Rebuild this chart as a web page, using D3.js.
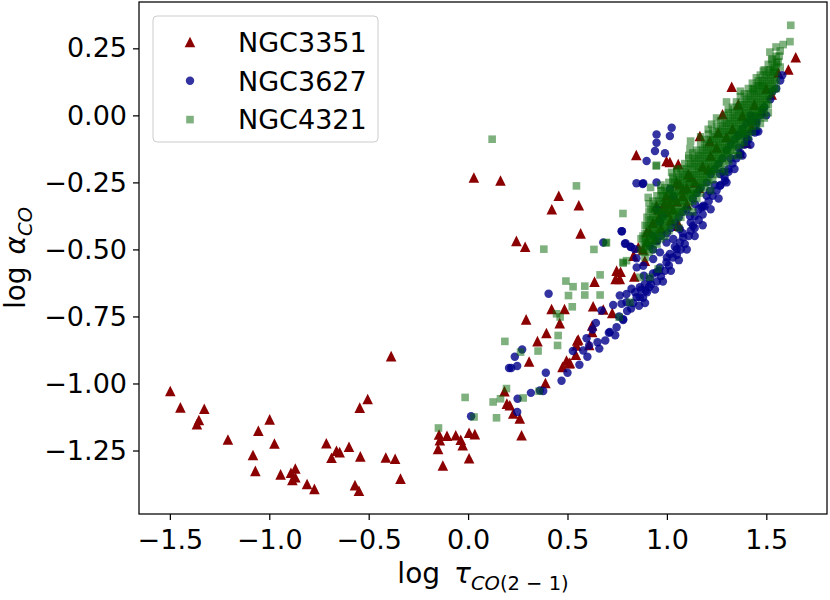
<!DOCTYPE html>
<html>
<head>
<meta charset="utf-8">
<script src="https://cdn.jsdelivr.net/npm/d3@7"></script>
<style>
  body { margin: 0; background: #fff; }
  svg { font-family: "DejaVu Sans", sans-serif; }
  .axis line { stroke: #000; stroke-width: 1.25; }
  .axis path { display: none; }
</style>
</head>
<body>
<div id="chart"></div>
<script>
// ==== Data ====
const seriesNames = ["NGC3351", "NGC3627", "NGC4321"];
const xTicks = [-1.5, -1.0, -0.5, 0.0, 0.5, 1.0, 1.5];
const yTicks = [-1.25, -1.0, -0.75, -0.5, -0.25, 0.0, 0.25];

// NGC3351 [log tau, log alpha]
const ngc3351 = [
  [-1.498,-1.028],[-1.447,-1.089],[-1.327,-1.094],[-1.354,-1.136],[-1.364,-1.152],
  [-1.208,-1.209],[-1.055,-1.176],[-0.998,-1.134],[-0.974,-1.224],[-1.082,-1.267],
  [-1.070,-1.326],[-0.943,-1.339],[-0.891,-1.333],[-0.869,-1.317],[-0.884,-1.360],
  [-0.869,-1.350],[-0.810,-1.375],[-0.773,-1.393],[-0.713,-1.223],[-0.662,-1.251],
  [-0.646,-1.256],[-0.687,-1.277],[-0.599,-1.236],[-0.542,-1.272],[-0.569,-1.379],
  [-0.549,-1.400],[-0.545,-1.090],[-0.505,-1.058],[-0.387,-0.898],[-0.414,-1.276],
  [-0.367,-1.281],[-0.340,-1.355],[-0.146,-1.190],[-0.142,-1.212],[-0.106,-1.195],
  [-0.151,-1.244],[-0.127,-1.306],[-0.062,-1.193],[-0.037,-1.210],[-0.027,-1.230],
  [0.005,-1.184],[0.034,-1.189],[0.005,-1.279],[0.183,-1.029],[0.195,-1.075],
  [0.029,-0.232],[0.163,-0.243],[0.456,-0.300],[0.421,-0.350],[0.557,-0.335],
  [0.243,-0.468],[0.287,-0.490],[0.566,-0.440],[0.420,-0.722],[0.485,-0.722],
  [0.461,-0.775],[0.292,-0.761],[0.394,-0.812],[0.349,-0.842],[0.307,-0.918],
  [0.495,-0.914],[0.508,-0.924],[0.475,-0.938],[0.549,-0.840],[0.542,-0.893],
  [0.389,-0.998],[0.210,-1.081],[0.227,-1.112],[0.260,-1.130],[0.269,-1.193],
  [0.629,-0.712],[0.680,-0.724],[0.725,-0.737],[0.624,-0.784],[0.624,-0.808],
  [0.554,-0.836],[0.609,-0.856],[0.512,-0.923],[0.545,-0.858],
  [0.636,-0.620],[0.742,-0.610],[0.767,-0.583],[0.747,-0.579],[0.763,-0.610],
  [0.832,-0.523],[0.836,-0.601],[0.856,-0.492],[0.889,-0.542],[0.898,-0.436],
  [0.914,-0.434],[0.948,-0.337],[0.981,-0.343],[1.015,-0.331],[1.057,-0.405],
  [0.846,-0.148],[0.998,-0.170],[0.988,-0.327],[0.998,-0.300],[1.015,-0.174],
  [1.057,-0.182],
  [1.166,-0.077],[1.280,0.004],[1.359,0.041],[1.426,-0.046],[1.024,-0.306],
  [1.049,-0.250],[0.956,-0.350],[1.057,-0.412],[1.107,-0.219],[1.082,-0.275],
  [1.208,-0.201],[1.648,0.217],[1.611,0.171],[1.326,0.107],[1.527,0.078],
  [1.477,0.016],[1.258,-0.064],[1.216,-0.096],[1.367,-0.139],[1.401,-0.102],
  [1.065,-0.257],[0.93,-0.40],[0.96,-0.38],[0.97,-0.42],[1.00,-0.36],
  [1.03,-0.35],[1.05,-0.32],[1.08,-0.30],[1.10,-0.27],[1.12,-0.23],
  [1.14,-0.25],[1.18,-0.19],[1.22,-0.15],[1.25,-0.12],[1.30,-0.08],
  [1.33,-0.05],[1.38,0.00],[1.44,0.04],[1.50,0.10],[1.56,0.16],
  [0.90,-0.47],[0.88,-0.50],[0.94,-0.46],[1.02,-0.39],[1.10,-0.33],[1.16,-0.27]
];

// NGC3627
const ngc3627 = [
  [0.015,-1.122],[0.206,-0.942],[0.405,-0.665],[0.272,-0.873],[0.235,-0.900],
  [0.247,-0.935],[0.217,-0.942],[0.391,-0.960],[0.527,-0.879],[0.316,-1.035],
  [0.361,-1.026],[0.378,-1.028],[0.249,-1.057],[0.247,-1.106],
  [0.713,-0.808],[0.772,-0.432],[0.864,-0.678],[0.797,-0.697],[0.651,-0.846],
  [0.579,-0.877],[0.708,-0.811],[0.747,-0.790],[0.780,-0.763],[0.643,-0.774],
  [0.626,-0.799],[0.596,-0.831],[0.609,-0.858],[0.671,-0.728],[0.730,-0.707],
  [0.772,-0.703],[0.763,-0.672],[0.797,-0.666],[0.822,-0.647],[0.848,-0.678],
  [0.864,-0.641],[0.889,-0.629],[0.894,-0.654],[0.914,-0.610],[0.948,-0.585],
  [0.965,-0.567],[0.998,-0.548],[1.015,-0.517],[1.049,-0.499],[1.065,-0.474],
  [1.082,-0.455],[1.132,-0.412],[1.141,-0.375],[1.175,-0.343],[0.848,-0.567],
  [0.884,-0.598],[0.931,-0.536],[0.965,-0.511],[0.998,-0.474],[0.881,-0.561],
  [0.792,-0.477],[0.817,-0.490],[0.839,-0.499],[0.680,-0.474],[0.914,-0.486],
  [0.47,-0.99],[0.50,-0.96],[0.56,-0.93],[0.60,-0.90],[0.66,-0.87],
  [0.69,-0.84],[0.74,-0.82],[0.76,-0.75],[0.80,-0.73],[0.83,-0.70],
  [0.86,-0.71],[0.88,-0.68],[0.90,-0.66],[0.92,-0.63],[0.95,-0.62],
  [0.97,-0.60],[0.99,-0.58],[1.01,-0.56],[1.03,-0.53],[1.05,-0.52],
  [1.07,-0.50],[1.09,-0.48],[1.11,-0.45],[1.12,-0.43],[1.14,-0.42],
  [1.16,-0.39],[1.18,-0.37],[1.19,-0.34],[1.21,-0.32],[1.23,-0.30],
  [1.25,-0.28],[1.27,-0.26],[1.29,-0.23],[1.31,-0.21],[1.33,-0.18],
  [1.35,-0.16],[1.37,-0.14],[1.39,-0.11],[1.41,-0.09],[1.43,-0.06],
  [1.45,-0.03],[1.47,0.00],[1.49,0.03],[1.52,0.06],[1.55,0.10],
  [0.93,-0.50],[0.95,-0.47],[0.97,-0.45],[1.00,-0.44],[1.02,-0.42],
  [1.04,-0.40],[1.06,-0.38],[1.08,-0.36],[1.10,-0.35],[1.13,-0.31],
  [1.15,-0.29],[1.17,-0.27],[1.20,-0.25],[1.22,-0.22],[1.24,-0.20],
  [1.26,-0.18],[1.28,-0.16],[1.30,-0.13],[1.32,-0.11],[1.34,-0.09],
  [1.36,-0.07],[1.38,-0.05],[1.40,-0.03],[1.42,0.00],
  [0.948,-0.071],[1.024,-0.046],[1.015,-0.077],[0.948,-0.102],[0.940,-0.133],
  [0.990,-0.141],[0.898,-0.170],[0.881,-0.253],[0.948,-0.250],[0.847,-0.253],
  [0.878,-0.256],[0.847,-0.533],[0.789,-0.479],[0.819,-0.491],[0.774,-0.432],
  [1.015,-0.275],[0.981,-0.375],[0.948,-0.350],[1.032,-0.300],[1.065,-0.424],
  [1.032,-0.461],[0.965,-0.399],[0.931,-0.449],
  [1.580,0.150],[1.451,-0.058],[1.401,-0.089],[1.359,-0.077],[1.309,-0.201],
  [1.292,-0.244],[1.267,-0.263],[1.216,-0.282],[1.183,-0.337],[1.141,-0.331],
  [1.451,-0.021],[1.434,-0.003],[1.267,-0.219],[1.116,-0.375],[1.443,-0.064],
  [1.401,-0.096],[1.368,-0.145],[1.384,-0.071],[1.418,-0.021],
  [0.78,-0.76],[0.82,-0.72],[0.84,-0.66],[0.87,-0.65],[0.89,-0.70],
  [0.91,-0.64],[0.93,-0.59],[0.94,-0.65],[0.96,-0.58],[0.98,-0.62],
  [1.00,-0.53],[1.02,-0.58],[1.04,-0.49],[1.06,-0.54],[1.08,-0.44],
  [1.10,-0.50],[1.12,-0.40],[1.14,-0.45],[1.16,-0.35],[1.18,-0.41],
  [1.20,-0.30],[1.22,-0.35],[1.24,-0.26],[1.26,-0.31],[1.28,-0.21],
  [1.30,-0.25],[1.32,-0.16],[1.34,-0.20],[1.36,-0.12],[1.38,-0.15],
  [1.40,-0.07],[1.42,-0.11],[1.44,-0.02],[1.46,-0.06],[1.48,0.02],
  [1.50,0.00],[1.53,0.09],[1.57,0.13]
];

// NGC4321
const ngc4321 = [
  [-0.149,-1.166],[-0.015,-1.052],[0.030,-1.125],[0.126,-1.069],[0.163,-1.057],
  [0.143,-1.128],[0.185,-0.843],[0.193,-1.019],[0.121,-0.089],[0.545,-0.263],
  [0.381,-0.499],[0.492,-0.618],[0.528,-0.639],[0.505,-0.672],[0.524,-0.714],
  [0.445,-0.740],[0.463,-0.752],[0.453,-0.821],[0.450,-0.858],[0.352,-0.879],
  [0.264,-0.883],[0.277,-1.054],[0.357,-1.029],[0.779,-0.366],[0.633,-0.500],
  [0.693,-0.476],[0.587,-0.637],[0.664,-0.595],[0.587,-0.670],[0.664,-0.670],
  [0.946,-0.189],[0.780,-0.551],[0.894,-0.474],[0.864,-0.604],[0.914,-0.604],
  [0.956,-0.573],[0.814,-0.697],[0.760,-0.753],[0.780,-0.548],[0.797,-0.542],
  [0.696,-0.474],[0.948,-0.186],[0.918,-0.269],[0.906,-0.306],[0.973,-0.282],
  [1.032,-0.238],[1.024,-0.213],
  [1.623,0.336],[1.619,0.275],[1.585,0.264],[1.549,0.255],[1.518,0.236],
  [1.565,0.221],[1.527,0.208],[1.552,0.196],[1.485,0.165],[1.535,0.165],
  [1.460,0.128],[1.477,0.109],[1.434,0.097],[1.309,0.022],[1.225,-0.033],
  [1.208,-0.052],[1.119,-0.096],[1.116,-0.124],
  [0.88,-0.45],[0.88,-0.51],[0.90,-0.38],[0.90,-0.44],[0.90,-0.49],
  [0.92,-0.35],[0.92,-0.42],[0.92,-0.47],[0.94,-0.34],[0.94,-0.40],[0.94,-0.46],
  [0.96,-0.32],[0.96,-0.39],[0.96,-0.44],[0.98,-0.30],[0.98,-0.36],[0.98,-0.42],
  [1.00,-0.29],[1.00,-0.35],[1.00,-0.41],[1.02,-0.27],[1.02,-0.33],[1.02,-0.39],
  [1.04,-0.25],[1.04,-0.32],[1.04,-0.37],[1.06,-0.23],[1.06,-0.29],[1.06,-0.36],
  [1.08,-0.22],[1.08,-0.28],[1.08,-0.34],[1.10,-0.20],[1.10,-0.26],[1.10,-0.32],
  [1.12,-0.18],[1.12,-0.25],[1.12,-0.30],[1.14,-0.16],[1.14,-0.22],[1.14,-0.29],
  [1.16,-0.15],[1.16,-0.21],[1.16,-0.27],[1.18,-0.13],[1.18,-0.19],[1.18,-0.25],
  [1.20,-0.11],[1.20,-0.17],[1.20,-0.23],[1.22,-0.09],[1.22,-0.16],[1.22,-0.21],
  [1.24,-0.08],[1.24,-0.14],[1.24,-0.20],[1.26,-0.06],[1.26,-0.12],[1.26,-0.18],
  [1.28,-0.04],[1.28,-0.10],[1.28,-0.16],[1.30,-0.03],[1.30,-0.09],[1.30,-0.14],
  [1.32,-0.01],[1.32,-0.07],[1.32,-0.13],[1.34,0.01],[1.34,-0.05],[1.34,-0.11],
  [1.36,0.03],[1.36,-0.03],[1.36,-0.09],[1.38,0.04],[1.38,-0.02],[1.38,-0.07],
  [1.40,0.06],[1.40,0.00],[1.40,-0.06],[1.42,0.08],[1.42,0.02],[1.42,-0.04],
  [1.44,0.10],[1.44,0.04],[1.44,-0.02],[1.46,0.11],[1.46,0.05],[1.46,0.00],
  [1.48,0.13],[1.48,0.07],[1.48,0.02],[1.50,0.15],[1.50,0.09],[1.50,0.04],
  [1.52,0.17],[1.52,0.11],[1.54,0.18],[1.54,0.13],[1.56,0.20],
  [0.97,-0.26],[1.05,-0.20],[1.11,-0.15],[1.17,-0.08],[1.25,-0.01],
  [1.30,0.05],[1.37,0.09],[1.06,-0.42],[1.13,-0.36],[1.22,-0.28],
  [1.29,-0.21],[1.36,-0.15],
  [0.87,-0.46],[0.87,-0.50],
  [0.89,-0.41],[0.89,-0.47],[0.89,-0.53],
  [0.91,-0.33],[0.91,-0.39],[0.91,-0.45],[0.91,-0.51],
  [0.93,-0.32],[0.93,-0.38],[0.93,-0.44],[0.93,-0.50],
  [0.95,-0.30],[0.95,-0.36],[0.95,-0.42],[0.95,-0.48],
  [0.97,-0.28],[0.97,-0.34],[0.97,-0.40],[0.97,-0.46],
  [0.99,-0.27],[0.99,-0.33],[0.99,-0.39],[0.99,-0.45],
  [1.01,-0.25],[1.01,-0.31],[1.01,-0.37],[1.01,-0.43],
  [1.03,-0.23],[1.03,-0.29],[1.03,-0.35],[1.03,-0.41],
  [1.05,-0.21],[1.05,-0.27],[1.05,-0.33],[1.05,-0.39],
  [1.07,-0.20],[1.07,-0.26],[1.07,-0.32],[1.07,-0.38],
  [1.09,-0.18],[1.09,-0.24],[1.09,-0.30],[1.09,-0.36],
  [1.11,-0.16],[1.11,-0.22],[1.11,-0.28],[1.11,-0.34],
  [1.13,-0.14],[1.13,-0.20],[1.13,-0.26],[1.13,-0.32],
  [1.15,-0.13],[1.15,-0.19],[1.15,-0.25],[1.15,-0.31],
  [1.17,-0.11],[1.17,-0.17],[1.17,-0.23],[1.17,-0.29],
  [1.19,-0.09],[1.19,-0.15],[1.19,-0.21],[1.19,-0.27],
  [1.21,-0.07],[1.21,-0.13],[1.21,-0.19],[1.21,-0.25],
  [1.23,-0.06],[1.23,-0.12],[1.23,-0.18],[1.23,-0.24],
  [1.25,-0.04],[1.25,-0.10],[1.25,-0.16],[1.25,-0.22],
  [1.27,-0.02],[1.27,-0.08],[1.27,-0.14],[1.27,-0.20],
  [1.29,0.00],[1.29,-0.06],[1.29,-0.12],[1.29,-0.18],
  [1.31,0.01],[1.31,-0.05],[1.31,-0.11],[1.31,-0.17],
  [1.33,0.03],[1.33,-0.03],[1.33,-0.09],[1.33,-0.15],
  [1.35,0.05],[1.35,-0.01],[1.35,-0.07],[1.35,-0.13],
  [1.37,0.07],[1.37,0.01],[1.37,-0.05],[1.37,-0.11],
  [1.39,0.08],[1.39,0.02],[1.39,-0.04],[1.39,-0.10],
  [1.41,0.10],[1.41,0.04],[1.41,-0.02],[1.41,-0.08],
  [1.43,0.12],[1.43,0.06],[1.43,0.00],[1.43,-0.06],
  [1.45,0.14],[1.45,0.08],[1.45,0.02],[1.45,-0.04],
  [1.47,0.15],[1.47,0.09],[1.47,0.03],[1.47,-0.03],
  [1.49,0.17],[1.49,0.11],[1.49,0.05],[1.49,-0.01],
  [1.51,0.19],[1.51,0.13],[1.51,0.07],[1.51,0.01],
  [1.53,0.21],[1.53,0.15],[1.53,0.09],
  [1.55,0.22],[1.55,0.16],[1.55,0.10],
  [1.57,0.24],[1.57,0.18],
  [0.88,-0.48],[0.90,-0.41],[0.90,-0.47],[0.92,-0.39],[0.92,-0.45],
  [0.94,-0.37],[0.94,-0.43],[0.96,-0.36],[0.96,-0.42],[0.98,-0.33],[0.98,-0.39],
  [1.00,-0.32],[1.00,-0.38],[1.02,-0.30],[1.02,-0.36],[1.04,-0.29],[1.04,-0.35],
  [1.06,-0.26],[1.06,-0.32],[1.08,-0.25],[1.08,-0.31],[1.10,-0.23],[1.10,-0.29],
  [1.12,-0.22],[1.12,-0.28],[1.14,-0.19],[1.14,-0.25],[1.16,-0.18],[1.16,-0.24],
  [1.18,-0.16],[1.18,-0.22],[1.20,-0.14],[1.20,-0.20],[1.22,-0.13],[1.22,-0.19],
  [1.24,-0.11],[1.24,-0.17],[1.26,-0.09],[1.26,-0.15],[1.28,-0.07],[1.28,-0.13],
  [1.30,-0.06],[1.30,-0.12],[1.32,-0.04],[1.32,-0.10],[1.34,-0.02],[1.34,-0.08],
  [1.36,0.00],[1.36,-0.06],[1.38,0.01],[1.38,-0.05],[1.40,0.03],[1.40,-0.03],
  [1.42,0.05],[1.42,-0.01],[1.44,0.07],[1.44,0.01],[1.46,0.08],[1.46,0.02],
  [1.48,0.10],[1.48,0.04],[1.50,0.12],[1.50,0.06],[1.52,0.14],[1.52,0.08],
  [1.54,0.16],[1.54,0.10],
  [0.89,-0.44],[0.89,-0.50],
  [0.91,-0.36],[0.91,-0.42],[0.91,-0.48],[0.93,-0.35],[0.93,-0.41],[0.93,-0.47],
  [0.95,-0.33],[0.95,-0.39],[0.95,-0.45],[0.97,-0.31],[0.97,-0.37],[0.97,-0.43],
  [0.99,-0.30],[0.99,-0.36],[0.99,-0.42],[1.01,-0.28],[1.01,-0.34],[1.01,-0.40],
  [1.03,-0.26],[1.03,-0.32],[1.03,-0.38],[1.05,-0.24],[1.05,-0.30],[1.05,-0.36],
  [1.07,-0.23],[1.07,-0.29],[1.07,-0.35],[1.09,-0.21],[1.09,-0.27],[1.09,-0.33],
  [1.11,-0.19],[1.11,-0.25],[1.11,-0.31],[1.13,-0.17],[1.13,-0.23],[1.13,-0.29],
  [1.15,-0.16],[1.15,-0.22],[1.15,-0.28],[1.17,-0.14],[1.17,-0.20],[1.17,-0.26],
  [1.19,-0.12],[1.19,-0.18],[1.19,-0.24],[1.21,-0.10],[1.21,-0.16],[1.21,-0.22],
  [1.23,-0.09],[1.23,-0.15],[1.23,-0.21],[1.25,-0.07],[1.25,-0.13],[1.25,-0.19],
  [1.27,-0.05],[1.27,-0.11],[1.27,-0.17],[1.29,-0.03],[1.29,-0.09],[1.29,-0.15],
  [1.31,-0.02],[1.31,-0.08],[1.31,-0.14],[1.33,0.00],[1.33,-0.06],[1.33,-0.12],
  [1.35,0.02],[1.35,-0.04],[1.35,-0.10],[1.37,0.04],[1.37,-0.02],[1.37,-0.08],
  [1.39,0.05],[1.39,-0.01],[1.39,-0.07],[1.41,0.07],[1.41,0.01],[1.41,-0.05],
  [1.43,0.09],[1.43,0.03],[1.43,-0.03],[1.45,0.11],[1.45,0.05],[1.45,-0.01],
  [1.47,0.12],[1.47,0.06],[1.47,0.00],[1.49,0.14],[1.49,0.08],[1.49,0.02],
  [1.51,0.16],[1.51,0.10],[1.51,0.04],[1.53,0.18],[1.53,0.12],
  [1.55,0.19],[1.55,0.13]
];

// ==== Initialization ====
const margin = ({ top: 2, right: 3, bottom: 86, left: 139 });
const width = 830 - margin.left - margin.right;
const height = 600 - margin.top - margin.bottom;

const svg = d3.select("#chart")
  .append("svg")
  .attr("width", width + margin.left + margin.right)
  .attr("height", height + margin.top + margin.bottom)
  .append("g")
  .attr("transform", `translate(${margin.left},${margin.top})`);

// matplotlib style 5% padding around the data
const all = ngc3351.concat(ngc3627, ngc4321);
function padded(ext) {
  const pad = (ext[1] - ext[0]) * 0.05;
  return [ext[0] - pad, ext[1] + pad];
}

const xScale = d3.scaleLinear()
  .domain(padded(d3.extent(all, d => d[0])))
  .range([0, width]);

const yScale = d3.scaleLinear()
  .domain(padded(d3.extent(all, d => d[1])))
  .range([height, 0]);

// ==== Axes ====
const xAxis = d3.axisBottom(xScale)
  .tickValues(xTicks)
  .tickFormat(d3.format(".1f"))
  .tickSize(6)
  .tickPadding(10);

const yAxis = d3.axisLeft(yScale)
  .tickValues(yTicks)
  .tickFormat(d3.format(".2f"))
  .tickSize(6)
  .tickPadding(6);

svg.append("g")
  .attr("class", "axis x-axis")
  .attr("transform", `translate(0,${height})`)
  .call(xAxis)
  .attr("font-size", 27)
  .attr("font-family", "DejaVu Sans");

svg.append("g")
  .attr("class", "axis y-axis")
  .call(yAxis)
  .attr("font-size", 27)
  .attr("font-family", "DejaVu Sans");

// ==== Markers ====
const triangle = {
  draw(context, size) {
    const h = Math.sqrt(size) / 2;
    context.moveTo(0, -h);
    context.lineTo(h, h);
    context.lineTo(-h, h);
    context.closePath();
  }
};

const styles = [
  { data: ngc3351, type: triangle, size: 112, color: "#8b0000", opacity: 1 },
  { data: ngc3627, type: d3.symbolCircle, size: 56, color: "#00008b", opacity: 0.8 },
  { data: ngc4321, type: d3.symbolSquare, size: 58, color: "#006400", opacity: 0.5 }
];

styles.forEach((s, i) => {
  const sym = d3.symbol().type(s.type).size(s.size);
  svg.append("g")
    .attr("class", "series s" + i)
    .selectAll("path")
    .data(s.data)
    .join("path")
    .attr("transform", d => `translate(${xScale(d[0])},${yScale(d[1])})`)
    .attr("d", sym)
    .attr("fill", s.color)
    .attr("fill-opacity", s.opacity);
});

// frame
svg.append("rect")
  .attr("width", width)
  .attr("height", height)
  .attr("fill", "none")
  .attr("stroke", "#000")
  .attr("stroke-width", 1.25);

// ==== Legend ====
const legend = svg.append("g")
  .attr("transform", `translate(${153 - margin.left},${16 - margin.top})`);

legend.append("rect")
  .attr("width", 225)
  .attr("height", 126)
  .attr("rx", 4)
  .attr("fill", "#fff")
  .attr("fill-opacity", 0.8)
  .attr("stroke", "#cccccc")
  .attr("stroke-width", 1);

seriesNames.forEach((name, i) => {
  const s = styles[i];
  const row = legend.append("g")
    .attr("transform", `translate(0,${26 + i * 38.8})`);
  row.append("path")
    .attr("transform", "translate(37,0)")
    .attr("d", d3.symbol().type(s.type).size(s.size))
    .attr("fill", s.color)
    .attr("fill-opacity", s.opacity);
  row.append("text")
    .attr("x", 85)
    .attr("dy", "0.36em")
    .attr("font-size", 27)
    .text(name);
});

// ==== Axis labels ====
const xLabel = svg.append("text")
  .attr("x", width / 2)
  .attr("y", height + 69)
  .attr("text-anchor", "middle")
  .attr("font-size", 28);
xLabel.append("tspan").text("log");
xLabel.append("tspan").attr("dx", 14).attr("font-style", "italic").text("τ");
xLabel.append("tspan").attr("dy", 7).attr("font-size", 19.5).attr("font-style", "italic").text("CO");
xLabel.append("tspan").attr("font-size", 19.5).text("(2 − 1)");

const yLabel = svg.append("text")
  .attr("transform", "rotate(-90)")
  .attr("x", -height / 2)
  .attr("y", 25 - margin.left)
  .attr("text-anchor", "middle")
  .attr("font-size", 28);
yLabel.append("tspan").text("log");
yLabel.append("tspan").attr("dx", 12).attr("font-style", "italic").text("α");
yLabel.append("tspan").attr("dy", 7).attr("font-size", 19.5).attr("font-style", "italic").text("CO");
</script>
</body>
</html>
